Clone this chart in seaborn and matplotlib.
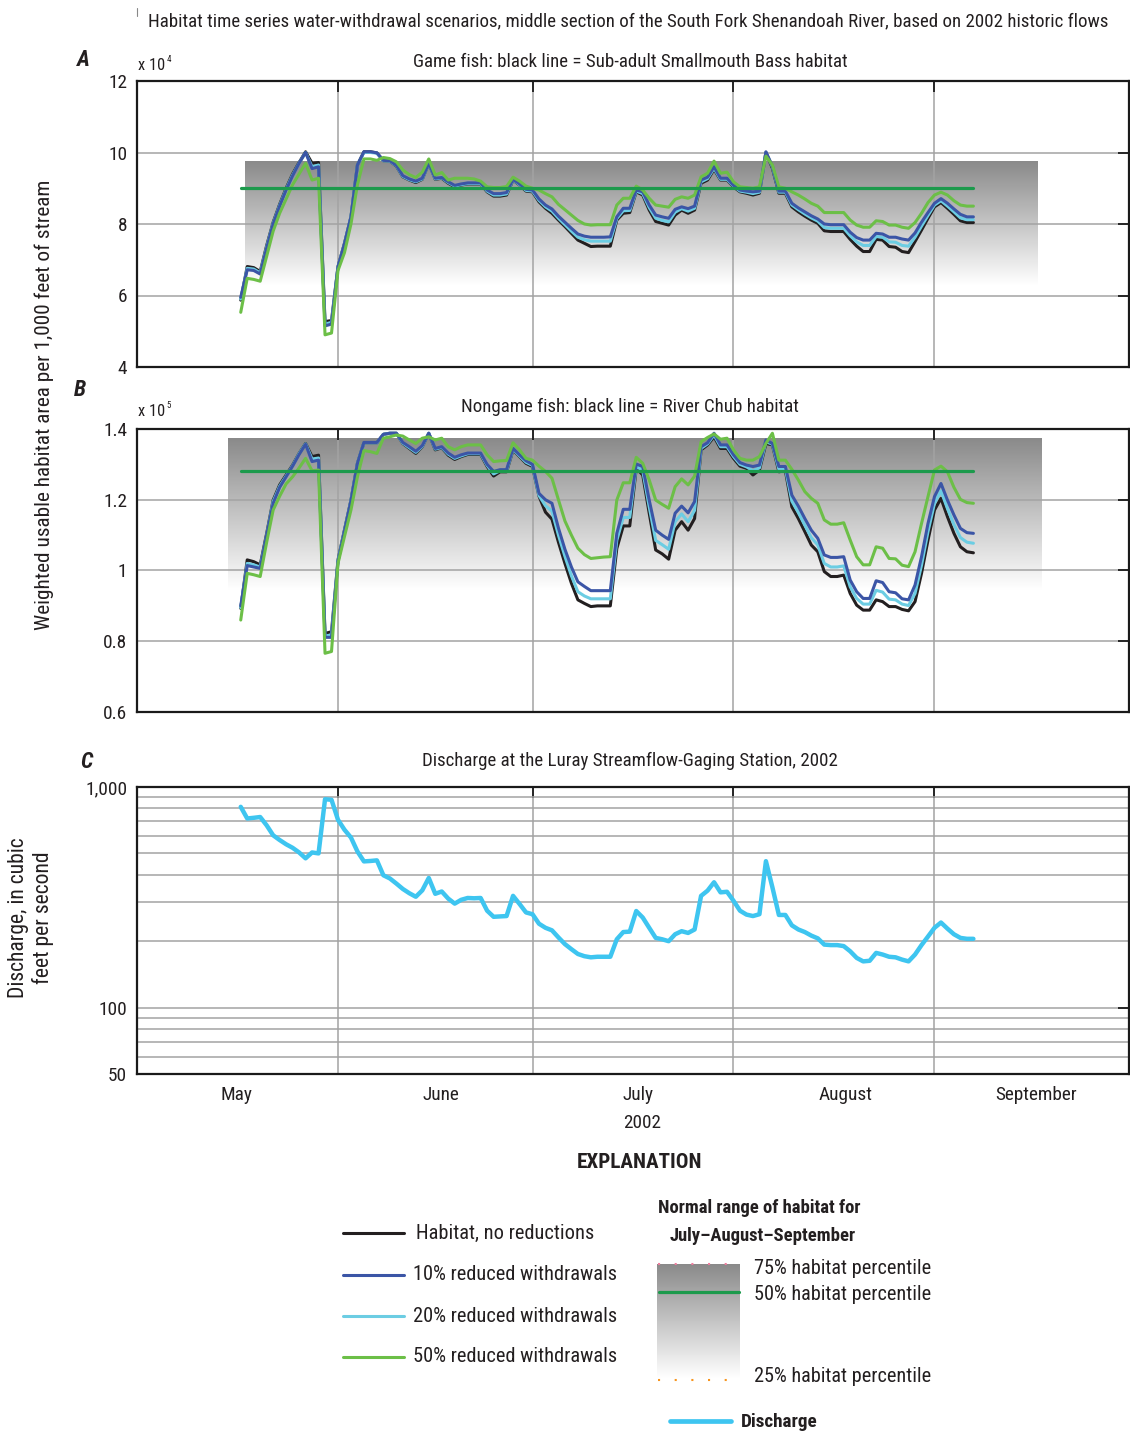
import numpy as np
import pandas as pd
import matplotlib
matplotlib.use("Agg")
import matplotlib.pyplot as plt
import matplotlib.dates as mdates
from matplotlib import font_manager
from matplotlib.colors import LinearSegmentedColormap
from matplotlib.lines import Line2D
from matplotlib.ticker import FixedLocator, NullFormatter
import seaborn as sns

sns.set_style("white")
_avail = {f.name for f in font_manager.fontManager.ttflist}
_prefs = ['Roboto Condensed', 'Liberation Sans Narrow', 'Open Sans Condensed', 'Noto Sans Condensed',
          'Roboto', 'Liberation Sans', 'DejaVu Sans']
FONT = [f for f in _prefs if f in _avail] + ['DejaVu Sans']
plt.rcParams['font.family'] = FONT[:1] + ['DejaVu Sans']

# ---------------- data ----------------
dates = pd.date_range("2002-05-17", "2002-09-07", freq="D")

game_none = [5.87, 6.81, 6.78, 6.67, 7.40, 8.05, 8.55, 9.00, 9.40, 9.72, 10.02, 9.70, 9.72, 5.27, 5.30,
             6.81, 7.46, 8.20, 9.65, 10.02, 10.02, 9.99, 9.77, 9.76, 9.62,
             9.32, 9.23, 9.16, 9.25, 9.70, 9.25, 9.28, 9.14, 9.04, 9.09,
             9.12, 9.12, 9.12, 8.90, 8.78, 8.78, 8.81, 9.23, 9.09, 8.92,
             8.90, 8.62, 8.44, 8.30, 8.11, 7.93, 7.74, 7.55, 7.46, 7.37,
             7.38, 7.38, 7.38, 8.11, 8.30, 8.32, 8.90, 8.81, 8.39, 8.07,
             8.02, 7.97, 8.25, 8.39, 8.30, 8.39, 9.14, 9.23, 9.53, 9.23,
             9.23, 9.04, 8.90, 8.86, 8.81, 8.86, 10.00, 9.56, 8.86, 8.86,
             8.48, 8.34, 8.22, 8.11, 8.02, 7.81, 7.79, 7.79, 7.79, 7.57,
             7.38, 7.23, 7.23, 7.57, 7.55, 7.37, 7.35, 7.23, 7.20, 7.51,
             7.83, 8.16, 8.48, 8.60, 8.44, 8.27, 8.09, 8.04, 8.04]
game_10 = [5.95, 6.72, 6.70, 6.60, 7.33, 8.00, 8.50, 8.95, 9.35, 9.70, 10.00, 9.55, 9.60, 5.15, 5.20,
           6.80, 7.45, 8.20, 9.65, 10.02, 10.02, 9.99, 9.78, 9.77, 9.64,
           9.35, 9.26, 9.20, 9.28, 9.70, 9.28, 9.30, 9.18, 9.08, 9.12,
           9.15, 9.15, 9.15, 8.95, 8.85, 8.85, 8.88, 9.25, 9.12, 8.97,
           8.95, 8.70, 8.53, 8.42, 8.22, 8.05, 7.88, 7.72, 7.66, 7.63,
           7.63, 7.63, 7.64, 8.20, 8.44, 8.44, 8.95, 8.90, 8.53, 8.25,
           8.20, 8.16, 8.41, 8.48, 8.43, 8.50, 9.23, 9.31, 9.60, 9.28,
           9.28, 9.08, 8.95, 8.92, 8.90, 8.92, 10.02, 9.62, 8.92, 8.92,
           8.58, 8.45, 8.34, 8.23, 8.14, 8.00, 7.98, 7.98, 7.98, 7.77,
           7.62, 7.55, 7.55, 7.74, 7.72, 7.63, 7.63, 7.58, 7.55, 7.75,
           8.05, 8.32, 8.58, 8.71, 8.58, 8.42, 8.27, 8.20, 8.20]
game_20 = [5.90, 6.76, 6.74, 6.63, 7.36, 8.02, 8.52, 8.97, 9.37, 9.70, 10.00, 9.60, 9.65, 5.20, 5.25,
           6.80, 7.45, 8.20, 9.65, 10.00, 10.00, 9.98, 9.77, 9.76, 9.63,
           9.33, 9.24, 9.18, 9.26, 9.70, 9.26, 9.29, 9.16, 9.06, 9.10,
           9.13, 9.13, 9.13, 8.92, 8.81, 8.81, 8.84, 9.24, 9.10, 8.94,
           8.92, 8.66, 8.48, 8.36, 8.16, 7.98, 7.80, 7.63, 7.56, 7.52,
           7.52, 7.52, 7.52, 8.15, 8.37, 8.38, 8.92, 8.85, 8.46, 8.16,
           8.10, 8.06, 8.33, 8.43, 8.36, 8.44, 9.18, 9.27, 9.56, 9.25,
           9.25, 9.06, 8.92, 8.89, 8.85, 8.89, 10.00, 9.60, 8.89, 8.89,
           8.53, 8.40, 8.28, 8.17, 8.08, 7.90, 7.88, 7.88, 7.88, 7.67,
           7.50, 7.40, 7.40, 7.65, 7.63, 7.50, 7.49, 7.40, 7.38, 7.63,
           7.94, 8.24, 8.53, 8.65, 8.50, 8.34, 8.17, 8.12, 8.12]
game_50 = [5.53, 6.48, 6.45, 6.40, 7.10, 7.80, 8.30, 8.70, 9.10, 9.40, 9.70, 9.23, 9.28, 4.90, 4.95,
           6.70, 7.20, 8.00, 9.10, 9.82, 9.82, 9.78, 9.86, 9.83, 9.74,
           9.51, 9.38, 9.30, 9.45, 9.82, 9.37, 9.44, 9.23, 9.28, 9.28,
           9.28, 9.26, 9.20, 9.04, 9.02, 9.02, 9.05, 9.31, 9.20, 9.06,
           9.00, 8.95, 8.85, 8.76, 8.55, 8.40, 8.25, 8.10, 8.00, 7.97,
           7.98, 7.98, 7.98, 8.53, 8.72, 8.72, 9.06, 8.95, 8.72, 8.53,
           8.50, 8.47, 8.69, 8.76, 8.72, 8.81, 9.32, 9.42, 9.76, 9.42,
           9.45, 9.18, 9.04, 9.02, 9.00, 9.04, 9.90, 9.65, 9.04, 9.00,
           8.90, 8.81, 8.70, 8.58, 8.50, 8.32, 8.32, 8.32, 8.32, 8.11,
           7.97, 7.91, 7.91, 8.09, 8.07, 7.97, 7.97, 7.91, 7.88, 8.04,
           8.30, 8.60, 8.81, 8.89, 8.81, 8.65, 8.53, 8.50, 8.50]

nongame_none = [0.893, 1.030, 1.025, 1.016, 1.105, 1.199, 1.242, 1.270, 1.298, 1.331, 1.359, 1.322, 1.326, 0.822, 0.827,
                1.030, 1.115, 1.199, 1.303, 1.361, 1.361, 1.361, 1.385, 1.388, 1.388,
                1.359, 1.345, 1.331, 1.350, 1.388, 1.341, 1.347, 1.326, 1.314, 1.322,
                1.328, 1.328, 1.328, 1.294, 1.267, 1.279, 1.279, 1.341, 1.322, 1.303,
                1.294, 1.210, 1.165, 1.145, 1.080, 1.020, 0.964, 0.917, 0.907, 0.898,
                0.900, 0.900, 0.900, 1.062, 1.126, 1.126, 1.289, 1.270, 1.162, 1.058,
                1.047, 1.032, 1.114, 1.138, 1.114, 1.147, 1.341, 1.355, 1.378, 1.345,
                1.345, 1.317, 1.295, 1.289, 1.270, 1.284, 1.359, 1.355, 1.279, 1.282,
                1.180, 1.147, 1.110, 1.072, 1.053, 0.997, 0.983, 0.983, 0.987, 0.935,
                0.902, 0.888, 0.888, 0.917, 0.912, 0.898, 0.898, 0.890, 0.886, 0.912,
                0.992, 1.086, 1.171, 1.204, 1.152, 1.105, 1.067, 1.053, 1.050]
nongame_10 = [0.900, 1.014, 1.010, 1.006, 1.100, 1.190, 1.235, 1.265, 1.295, 1.328, 1.357, 1.308, 1.312, 0.811, 0.811,
              1.025, 1.112, 1.197, 1.303, 1.362, 1.362, 1.362, 1.385, 1.388, 1.388,
              1.362, 1.350, 1.337, 1.353, 1.388, 1.345, 1.350, 1.332, 1.320, 1.327,
              1.332, 1.332, 1.332, 1.300, 1.280, 1.285, 1.285, 1.345, 1.327, 1.310,
              1.300, 1.218, 1.200, 1.190, 1.120, 1.060, 1.010, 0.968, 0.955, 0.943,
              0.943, 0.943, 0.943, 1.105, 1.173, 1.173, 1.301, 1.294, 1.199, 1.114,
              1.100, 1.088, 1.162, 1.182, 1.163, 1.195, 1.350, 1.361, 1.388, 1.355,
              1.355, 1.327, 1.305, 1.298, 1.294, 1.298, 1.369, 1.359, 1.294, 1.294,
              1.213, 1.182, 1.147, 1.114, 1.091, 1.044, 1.037, 1.037, 1.039, 0.973,
              0.940, 0.921, 0.921, 0.971, 0.966, 0.940, 0.937, 0.920, 0.917, 0.959,
              1.039, 1.133, 1.209, 1.246, 1.199, 1.157, 1.119, 1.107, 1.105]
nongame_20 = [0.895, 1.020, 1.016, 1.010, 1.100, 1.195, 1.238, 1.267, 1.296, 1.330, 1.358, 1.315, 1.318, 0.815, 0.818,
              1.028, 1.113, 1.198, 1.303, 1.361, 1.361, 1.361, 1.385, 1.388, 1.388,
              1.360, 1.347, 1.334, 1.351, 1.388, 1.343, 1.348, 1.329, 1.317, 1.324,
              1.330, 1.330, 1.330, 1.297, 1.273, 1.282, 1.282, 1.343, 1.324, 1.306,
              1.297, 1.212, 1.183, 1.168, 1.100, 1.040, 0.985, 0.940, 0.928, 0.920,
              0.920, 0.920, 0.920, 1.085, 1.150, 1.150, 1.295, 1.282, 1.180, 1.085,
              1.073, 1.060, 1.138, 1.160, 1.138, 1.170, 1.345, 1.358, 1.383, 1.350,
              1.350, 1.322, 1.300, 1.293, 1.282, 1.290, 1.364, 1.357, 1.286, 1.288,
              1.196, 1.164, 1.128, 1.093, 1.072, 1.020, 1.010, 1.010, 1.013, 0.954,
              0.921, 0.905, 0.905, 0.944, 0.939, 0.919, 0.917, 0.905, 0.901, 0.935,
              1.015, 1.110, 1.190, 1.225, 1.175, 1.130, 1.093, 1.080, 1.077]
nongame_50 = [0.860, 0.992, 0.988, 0.983, 1.080, 1.171, 1.210, 1.245, 1.265, 1.290, 1.317, 1.282, 1.284, 0.766, 0.771,
              1.020, 1.096, 1.171, 1.265, 1.339, 1.336, 1.331, 1.374, 1.378, 1.383,
              1.380, 1.369, 1.359, 1.374, 1.378, 1.369, 1.374, 1.350, 1.341, 1.350,
              1.355, 1.355, 1.355, 1.327, 1.308, 1.310, 1.311, 1.361, 1.341, 1.317,
              1.312, 1.295, 1.280, 1.261, 1.200, 1.140, 1.100, 1.063, 1.045, 1.034,
              1.036, 1.038, 1.039, 1.199, 1.248, 1.248, 1.320, 1.303, 1.256, 1.199,
              1.187, 1.176, 1.237, 1.259, 1.242, 1.267, 1.364, 1.376, 1.386, 1.371,
              1.374, 1.341, 1.317, 1.312, 1.312, 1.322, 1.359, 1.388, 1.312, 1.312,
              1.286, 1.256, 1.223, 1.204, 1.190, 1.143, 1.131, 1.131, 1.135, 1.086,
              1.039, 1.016, 1.016, 1.067, 1.063, 1.034, 1.033, 1.015, 1.011, 1.053,
              1.133, 1.209, 1.284, 1.295, 1.279, 1.235, 1.201, 1.192, 1.190]

discharge = [813, 720, 725, 731, 670, 604, 575, 550, 530, 505, 475, 505, 500, 880, 875,
             710, 640, 590, 510, 460, 462, 465, 398, 385, 365,
             345, 330, 318, 340, 387, 328, 336, 312, 296, 308,
             314, 313, 314, 275, 258, 259, 260, 321, 295, 270,
             265, 240, 230, 224, 208, 194, 184, 175, 171, 169,
             170, 170, 170, 204, 220, 221, 274, 256, 230, 207,
             204, 200, 215, 222, 218, 226, 321, 339, 370, 333,
             335, 305, 275, 264, 260, 265, 461, 351, 263, 263,
             236, 226, 220, 212, 206, 193, 192, 192, 190, 180,
             168, 162, 163, 177, 174, 170, 169, 165, 162, 174,
             192, 210, 230, 243, 228, 215, 207, 205, 205]

# percentiles (July-August-September normal range)
game_p75, game_p50, game_p25 = 9.76, 9.0, 6.3
nongame_p75, nongame_p50, nongame_p25 = 1.372, 1.28, 0.945
game_band_span = ("2002-05-17 17:00", "2002-09-16 22:00")
nongame_band_span = ("2002-05-15 00:00", "2002-09-17 10:00")

month_starts = ["2002-06-01", "2002-07-01", "2002-08-01", "2002-09-01"]
month_label_pos = ["2002-05-16 07:00", "2002-06-16 19:00", "2002-07-17 07:00",
                   "2002-08-18 07:00", "2002-09-16 15:00"]
month_labels = ["May", "June", "July", "August", "September"]

series_labels = ["Habitat, no reductions", "10% reduced withdrawals",
                 "20% reduced withdrawals", "50% reduced withdrawals"]

# ---------------- style ----------------
C_BLACK = "#231f20"
C_BLUE = "#3b55a6"
C_CYAN = "#6ccde3"
C_GREEN = "#6cbf47"
C_MED = "#1c9a4c"
C_Q = "#3ec5f0"
C_GRID = "#a3a3a3"
TXT = "#231f20"
band_cmap = LinearSegmentedColormap.from_list("band", ["#8a8a8a", "#ffffff"])

W, H = 1130, 1433
fig = plt.figure(figsize=(W / 100, H / 100), dpi=100)
renderer = fig.canvas.get_renderer()


def fx(x):
    return x / W


def fy(y):
    return 1 - y / H


def fit(texts, ref, target, vertical=False):
    """Scale the font size of a group of texts so that `ref` spans `target` pixels."""
    bb = ref.get_window_extent(renderer)
    size = (bb.height if vertical else bb.width)
    s = ref.get_fontsize() * target / size
    for t in texts:
        t.set_fontsize(s)
    return s


def add_ax(top, bottom, left=137, right=1129):
    return fig.add_axes([fx(left), fy(bottom), (right - left) / W, (bottom - top) / H])


# tick-label size from the month label width in the reference ("September" ~ 82 px)
_probe = fig.text(0, 0, "September", fontsize=12)
TICK_FS = fit([_probe], _probe, 82)
_probe.remove()

xmin, xmax = pd.Timestamp("2002-05-01"), pd.Timestamp("2002-10-01")


def style_axes(ax):
    for s in ax.spines.values():
        s.set_color("#1a1a1a")
        s.set_linewidth(1.6)
    ax.set_xlim(xmin, xmax)
    ax.set_xticks([pd.Timestamp(d) for d in month_starts])
    ax.set_xticklabels([])
    ax.tick_params(which="major", direction="in", length=8, width=1.3, color="#1a1a1a",
                   top=True, right=True, labelsize=TICK_FS, pad=7, labelcolor=TXT)
    ax.set_axisbelow(True)
    ax.xaxis.grid(True, which="major", color=C_GRID, lw=1.1)
    ax.yaxis.grid(True, which="major", color=C_GRID, lw=1.1)
    ax.set_xlabel("")
    ax.set_ylabel("")


def habitat_panel(ax, series, p75, p50, p25, span, ylim, yticks, yticklabels):
    colors = [C_BLACK, C_BLUE, C_CYAN, C_GREEN]
    for z, i in enumerate([0, 2, 1, 3]):
        sns.lineplot(x=dates, y=series[i], ax=ax, color=colors[i], linewidth=2.2,
                     estimator=None, legend=False, zorder=3 + z)
    sns.lineplot(x=[dates[0], dates[-1]], y=[p50, p50], ax=ax, color=C_MED, linewidth=2.3,
                 estimator=None, legend=False, zorder=8)
    x0 = mdates.date2num(pd.Timestamp(span[0]))
    x1 = mdates.date2num(pd.Timestamp(span[1]))
    grad = np.linspace(0, 1, 256).reshape(-1, 1)
    ax.imshow(grad, cmap=band_cmap, extent=[x0, x1, p25, p75], aspect="auto",
              origin="upper", zorder=0.3, interpolation="bilinear")
    style_axes(ax)
    ax.set_ylim(*ylim)
    ax.set_yticks(yticks)
    ax.set_yticklabels(yticklabels)


# Panel A
axA = add_ax(81, 367)
habitat_panel(axA, [game_none, game_10, game_20, game_50], game_p75, game_p50, game_p25,
              game_band_span, (4, 12), [4, 6, 8, 10, 12], ["4", "6", "8", "10", "12"])

# Panel B
axB = add_ax(429, 712)
habitat_panel(axB, [nongame_none, nongame_10, nongame_20, nongame_50], nongame_p75, nongame_p50,
              nongame_p25, nongame_band_span, (0.6, 1.4), [0.6, 0.8, 1.0, 1.2, 1.4],
              ["0.6", "0.8", "1", "1.2", "1.4"])

# Panel C
axC = add_ax(787, 1074)
sns.lineplot(x=dates, y=discharge, ax=axC, color=C_Q, linewidth=3.2, estimator=None, legend=False, zorder=3)
axC.set_yscale("log")
style_axes(axC)
axC.set_ylim(50, 1000)
axC.set_yticks([50, 100, 1000])
axC.set_yticklabels(["50", "100", "1,000"])
axC.yaxis.set_minor_locator(FixedLocator([60, 70, 80, 90, 200, 300, 400, 500, 600, 700, 800, 900]))
axC.yaxis.set_minor_formatter(NullFormatter())
axC.yaxis.grid(True, which="minor", color=C_GRID, lw=1.1)
axC.tick_params(axis="y", which="minor", length=0)
axC.set_xticks([pd.Timestamp(d) for d in month_label_pos], minor=True)
axC.set_xticklabels(month_labels, minor=True)
axC.tick_params(axis="x", which="minor", length=0, labelsize=TICK_FS, pad=9, labelcolor=TXT)

# ---------------- texts ----------------
fig.add_artist(Line2D([fx(137), fx(137)], [fy(8), fy(16)], color="#888888", lw=0.8,
                      transform=fig.transFigure))
t_title = fig.text(fx(148), fy(21), "Habitat time series water-withdrawal scenarios, middle section of the "
                   "South Fork Shenandoah River, based on 2002 historic flows", ha="left", va="center",
                   fontsize=12, color=TXT)
fit([t_title], t_title, 961)

for letter, (lx, ly) in zip("ABC", [(83, 60), (80, 390), (86, 762)]):
    fig.text(fx(lx), fy(ly), letter, ha="center", va="center", fontsize=16,
             fontweight="bold", fontstyle="italic", color=TXT)

# "x 10^n" multiplier labels: base text plus a small raised exponent
for (bx, by), expo in [((138, 65), "4"), ((138, 412), "5")]:
    tb = fig.text(fx(bx), fy(by), "x 10", ha="left", va="center", fontsize=12, color=TXT)
    fit([tb], tb, 27)
    bb = tb.get_window_extent(renderer)
    fig.text(bb.x1 / W + 1.5 / W, fy(by - 6), expo, ha="left", va="center",
             fontsize=tb.get_fontsize() * 0.55, color=TXT)

tA = fig.text(fx(630), fy(62), "Game fish: black line = Sub-adult Smallmouth Bass habitat",
              ha="center", va="center", fontsize=12, color=TXT)
tB = fig.text(fx(630), fy(407), "Nongame fish: black line = River Chub habitat",
              ha="center", va="center", fontsize=12, color=TXT)
tC = fig.text(fx(630), fy(761), "Discharge at the Luray Streamflow-Gaging Station, 2002",
              ha="center", va="center", fontsize=12, color=TXT)
fit([tA, tB, tC], tA, 434)
t_yl = fig.text(fx(44), fy(405), "Weighted usable habitat area per 1,000 feet of stream", rotation=90,
                ha="center", va="center", fontsize=14, color=TXT)
fit([t_yl], t_yl, 454, vertical=True)
t_yc = fig.text(fx(31), fy(918), "Discharge, in cubic\nfeet per second", rotation=90, ha="center",
                va="center", fontsize=14, color=TXT, linespacing=1.2, multialignment="center")
fit([t_yc], t_yc, 162, vertical=True)
t_yr = fig.text(fx(642), fy(1123), "2002", ha="center", va="center", fontsize=13, color=TXT)
fit([t_yr], t_yr, 38)

# ---------------- explanation ----------------
t_ex = fig.text(fx(640), fy(1163), "EXPLANATION", ha="center", va="center", fontsize=14,
                fontweight="bold", color=TXT)
fit([t_ex], t_ex, 126)

leg_colors = [C_BLACK, C_BLUE, C_CYAN, C_GREEN]
leg_y = [1233, 1275, 1316, 1357]
leg_tx = [416, 413, 413, 413]
leg_texts = []
for lab, col, yy, tx in zip(series_labels, leg_colors, leg_y, leg_tx):
    fig.add_artist(Line2D([fx(343), fx(404)], [fy(yy), fy(yy)], color=col, lw=2.2,
                          transform=fig.transFigure))
    leg_texts.append(fig.text(fx(tx), fy(yy), lab, ha="left", va="center", fontsize=13, color=TXT))
fit(leg_texts, leg_texts[1], 203)

t_n1 = fig.text(fx(658), fy(1208), "Normal range of habitat for", ha="left", va="center",
                fontsize=12.5, fontweight="bold", color=TXT)
t_n2 = fig.text(fx(670), fy(1236), "July\u2013August\u2013September", ha="left", va="center",
                fontsize=12.5, fontweight="bold", color=TXT)
fit([t_n1, t_n2], t_n1, 204)

axL = fig.add_axes([fx(657), fy(1378), 83 / W, 114 / H])
axL.imshow(np.linspace(0, 1, 256).reshape(-1, 1), cmap=band_cmap, aspect="auto",
           extent=[0, 1, 0, 1], origin="upper", interpolation="bilinear")
axL.set_xlim(0, 1)
axL.set_ylim(0, 1)
axL.axis("off")
fig.add_artist(Line2D([fx(659), fx(739)], [fy(1292), fy(1292)], color=C_MED, lw=2.3,
                      transform=fig.transFigure))
fig.add_artist(Line2D([fx(658), fx(740)], [fy(1264), fy(1264)], color="#ee7d9e", lw=1.5,
                      ls=(0, (1, 7)), transform=fig.transFigure))
fig.add_artist(Line2D([fx(658), fx(740)], [fy(1380), fy(1380)], color="#f7941d", lw=1.5,
                      ls=(0, (1, 7)), transform=fig.transFigure))
pct_texts = []
for lab, yy in [("75% habitat percentile", 1268), ("50% habitat percentile", 1295),
                ("25% habitat percentile", 1377)]:
    pct_texts.append(fig.text(fx(754), fy(yy), lab, ha="left", va="center", fontsize=13, color=TXT))
fit(pct_texts, pct_texts[0], 176)

fig.add_artist(Line2D([fx(670), fx(731)], [fy(1421), fy(1421)], color=C_Q, lw=3.4,
                      transform=fig.transFigure))
t_q = fig.text(fx(741), fy(1422), "Discharge", ha="left", va="center", fontsize=12.5,
               fontweight="bold", color=TXT)
fit([t_q], t_q, 77)

fig.savefig("out.png", dpi=100)
